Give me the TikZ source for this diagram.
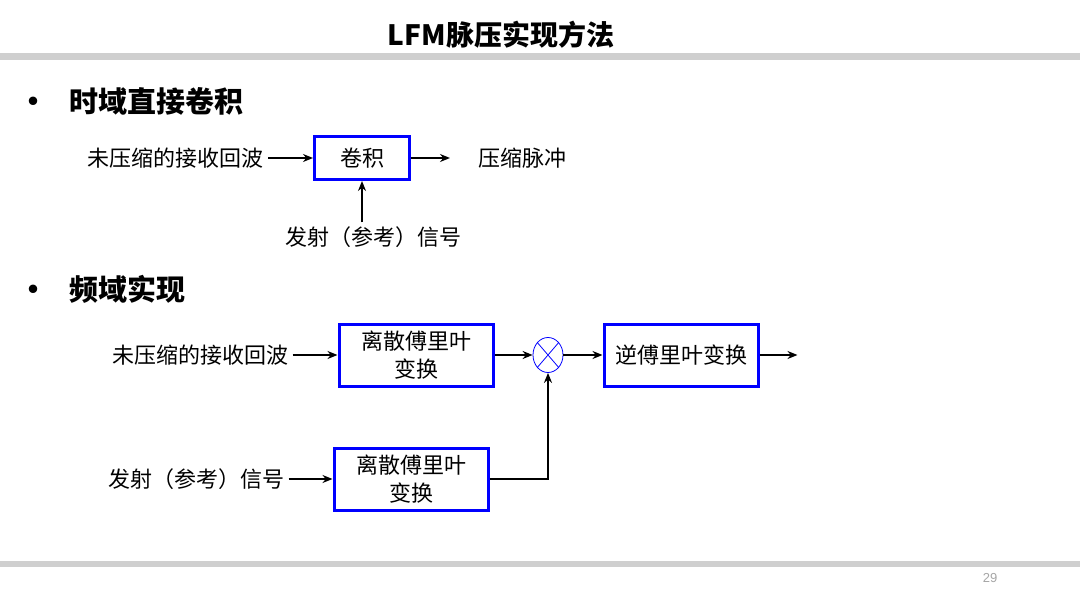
\documentclass[tikz,border=0pt]{standalone}
\usepackage{fontspec}
\newfontfamily\cjk{Noto Sans CJK SC}
\newfontfamily\numfont{Liberation Sans}
\usetikzlibrary{positioning, shapes.geometric, arrows.meta}

\begin{document}
\begin{tikzpicture}[x=1pt, y=-1pt, >={Stealth[length=10pt,width=8pt]}, every node/.style={font=\cjk\fontsize{22}{28}\selectfont}]
\tikzstyle{block}=[draw=blue, line width=3pt, minimum width=154pt, minimum height=62pt, align=center, inner sep=2pt]
\tikzstyle{label text}=[inner sep=4pt]
\tikzstyle{heading}=[font=\cjk\fontsize{29}{34}\selectfont\bfseries, anchor=west]
\tikzstyle{bullet}=[font=\cjk\fontsize{40}{40}\selectfont, inner sep=0pt]
\tikzstyle{bar}=[fill=black!19, draw=none]
\tikzstyle{signal}=[->, line width=2.4pt]

\useasboundingbox (0,0) rectangle (1080,607);
\fill[white] (0,0) rectangle (1080,607);

% title and bars
\node[font=\cjk\fontsize{28}{32}\selectfont\bfseries] (title) at (501,35) {LFM脉压实现方法};
\fill[bar] (0,53) rectangle (1080,60);
\fill[bar] (0,561) rectangle (1080,567);
\node[font=\numfont\fontsize{13}{15}\selectfont, text=black!35] (page) at (990,578) {29};

% time domain
\node[bullet] (dot1) at (33,107) {\textbullet};
\node[heading] (head1) at (66,101) {时域直接卷积};
\node[block, minimum width=95pt, minimum height=43pt] (conv) at (362,158) {卷积};
\node[label text, left=45pt of conv] (echo1) {未压缩的接收回波};
\node[label text, right=63pt of conv] (pulse) {压缩脉冲};
\node[label text] (ref1) at (373,237) {发射（参考）信号};
\draw[signal] (echo1) -- (conv);
\draw[signal, shorten >=24pt] (conv) -- (pulse);
\draw[signal] (ref1.north -| conv.south) -- (conv.south);

% frequency domain
\node[bullet] (dot2) at (33,295) {\textbullet};
\node[heading] (head2) at (66,289) {频域实现};
\node[block] (dft1) at (416,355) {离散傅里叶\\变换};
\node[label text, left=45pt of dft1] (echo2) {未压缩的接收回波};
\node[draw=blue, line width=0.8pt, ellipse, minimum width=30pt, minimum height=35pt, inner sep=0pt,
  path picture={\draw[blue, line width=0.8pt]
    (path picture bounding box.north west) -- (path picture bounding box.south east)
    (path picture bounding box.south west) -- (path picture bounding box.north east);}] (mult) at (548,355) {};
\node[block] (idft) at (681,355) {逆傅里叶变换};
\coordinate[right=38pt of idft] (out2);
\node[block] (dft2) at (411,479) {离散傅里叶\\变换};
\node[label text, left=44pt of dft2] (ref2) {发射（参考）信号};

\draw[signal] (echo2) -- (dft1);
\draw[signal] (dft1) -- (mult);
\draw[signal] (mult) -- (idft);
\draw[signal] (idft) -- (out2);
\draw[signal] (ref2) -- (dft2);
\draw[signal] (dft2) -| (mult);
\end{tikzpicture}
\end{document}
